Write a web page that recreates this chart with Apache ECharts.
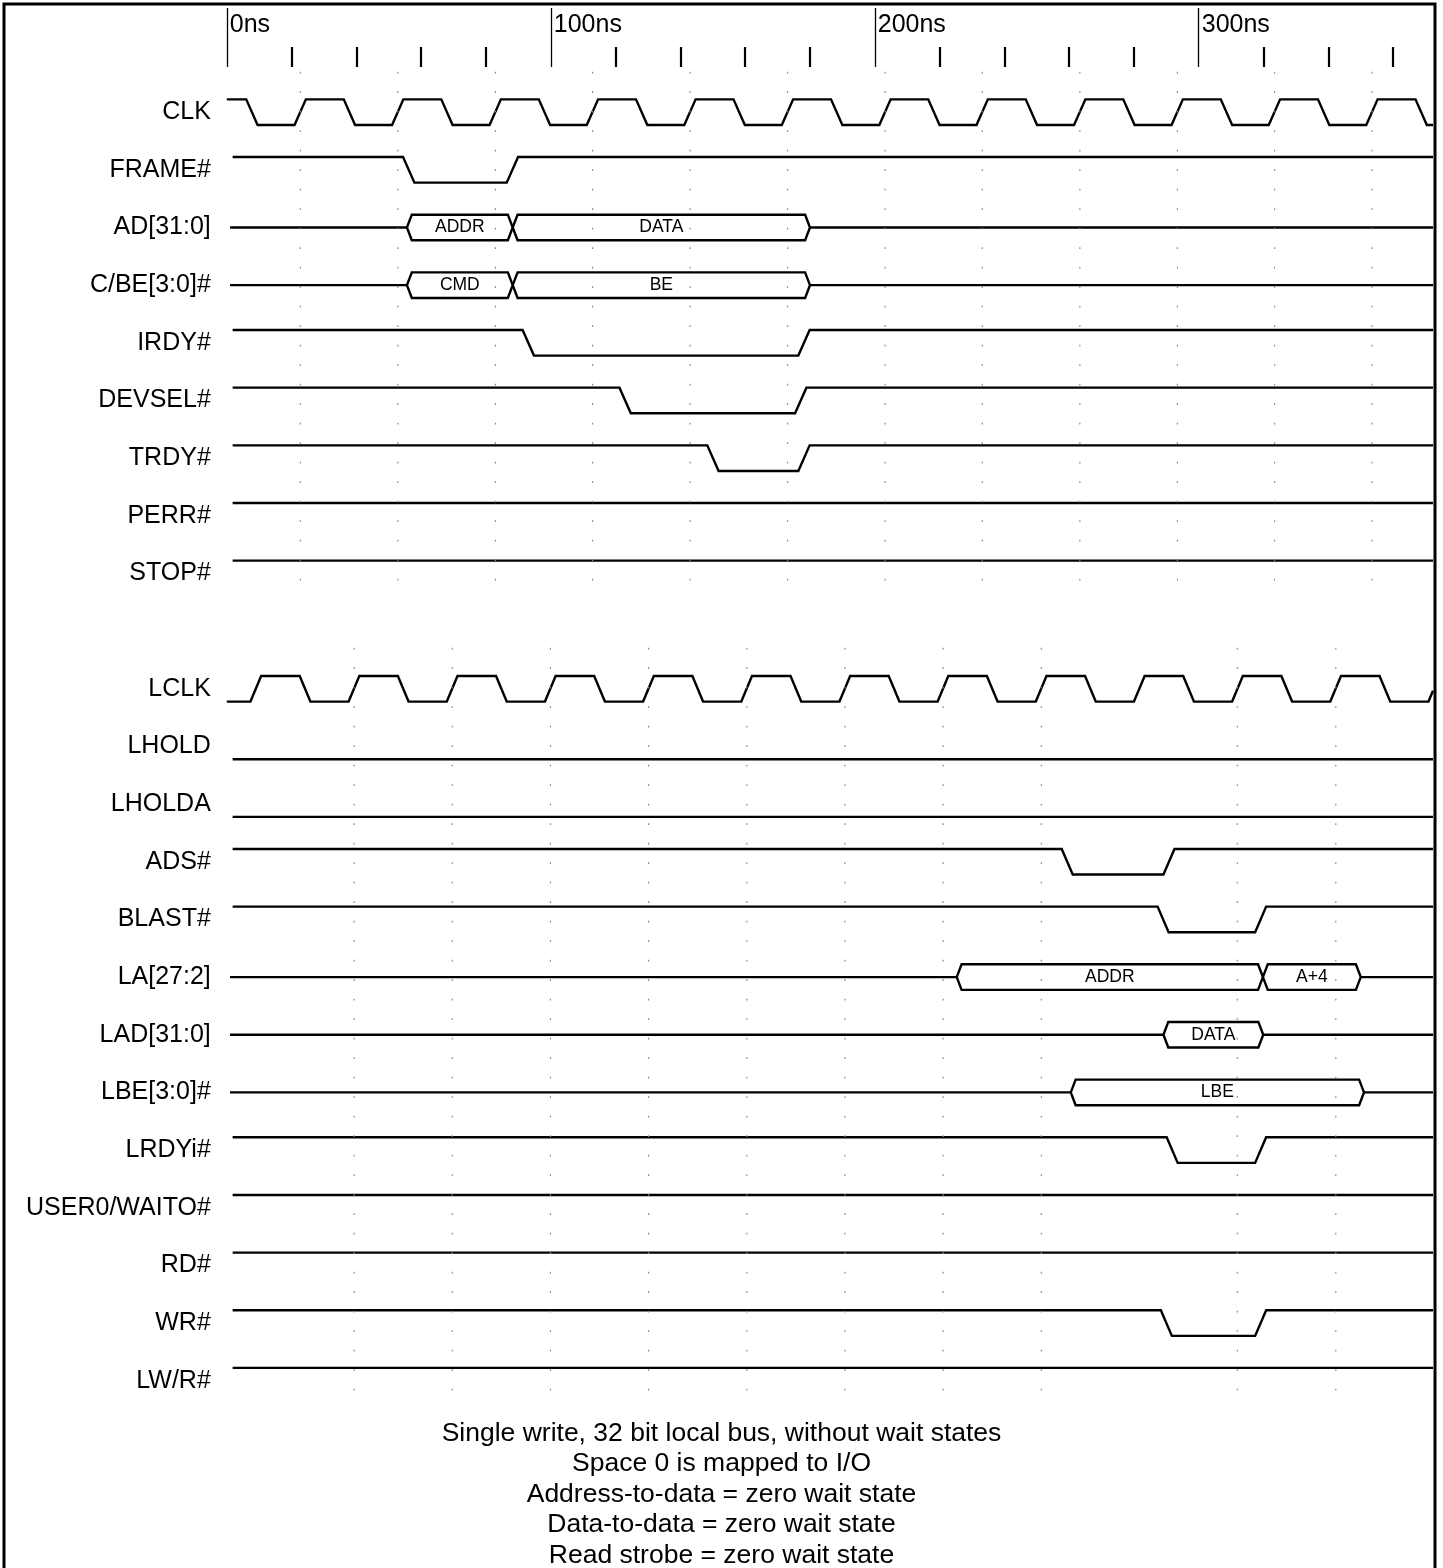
<!DOCTYPE html>
<html><head><meta charset="utf-8">
<script src="https://cdn.jsdelivr.net/npm/echarts@6/dist/echarts.min.js"></script>
<style>html,body{margin:0;padding:0;background:#fff}#c{width:1443px;height:1568px}</style>
</head><body><div id="c"></div>
<script>
// ---------- data (times in ns) ----------
const signalNames = ['CLK','FRAME#','AD[31:0]','C/BE[3:0]#','IRDY#','DEVSEL#','TRDY#','PERR#','STOP#','',
  'LCLK','LHOLD','LHOLDA','ADS#','BLAST#','LA[27:2]','LAD[31:0]','LBE[3:0]#','LRDYi#','USER0/WAITO#','RD#','WR#','LW/R#'];
const timeTickLabels = ['0ns','100ns','200ns','300ns'];
const timeEnd = 372.3;

// clock edges (start of each transition), CLK starts high, LCLK starts low
const clkEdges  = [6.0,20.9,36.1,51.0,66.2,81.1,96.3,111.1,126.3,141.2,156.4,171.3,186.5,201.4,216.5,231.4,246.6,261.5,276.7,291.6,306.8,321.6,336.8,351.7,366.9];
const lclkEdges = [7.3,22.5,37.6,52.8,67.9,83.1,98.2,113.4,128.5,143.7,158.8,174.0,189.1,204.3,219.4,234.6,249.7,264.9,280.0,295.2,310.3,325.5,340.6,355.8,370.9];

// single-bit signals: edge times (start high unless noted)
const frameEdges  = [54.4, 86.4];
const irdyEdges   = [91.3, 176.4];
const devselEdges = [121.2, 175.4];
const trdyEdges   = [148.3, 176.4];
const perrEdges   = [];
const stopEdges   = [];
const lholdEdges  = [];   // low
const lholdaEdges = [];   // low
const adsEdges    = [257.7, 289.1];
const blastEdges  = [287.3, 317.4];
const lrdyEdges   = [290.1, 317.4];
const user0Edges  = [];
const rdEdges     = [];
const wrEdges     = [288.3, 317.4];
const lwrEdges    = [];

// bus signals: [start, end, label]
const adBus  = [[55.6, 88.25, 'ADDR'], [88.25, 180.0, 'DATA']];
const cbeBus = [[55.6, 88.25, 'CMD'],  [88.25, 180.0, 'BE']];
const laBus  = [[225.3, 319.8, 'ADDR'], [319.8, 350.0, 'A+4']];
const ladBus = [[289.1, 319.9, 'DATA']];
const lbeBus = [[260.5, 351.0, 'LBE']];

// dotted reference lines (CLK / LCLK rising edges)
const pciGridTimes   = [22.7,52.8,82.9,112.9,143.0,173.1,203.2,233.2,263.3,293.4,323.4,353.5];
const localGridTimes = [39.3,69.6,99.9,130.2,160.5,190.8,221.1,251.4,311.9,342.3];

const caption = ['Single write, 32 bit local bus, without wait states','Space 0 is mapped to I/O',
  'Address-to-data = zero wait state','Data-to-data = zero wait state','Read strobe = zero wait state'];

// ---------- building ----------
const AMP = 0.222;
const FONT = 'Liberation Sans, Arial, Helvetica, sans-serif';
const LINE = {color:'#000', width:2.4, cap:'butt', join:'miter'};

function digital(row, startHigh, t0, edges, w) {
  const lv = h => h ? row - AMP : row + AMP;
  let cur = startHigh;
  const pts = [[t0, lv(cur)]];
  for (const e of edges) {
    if (e >= timeEnd) break;
    pts.push([e, lv(cur)]);
    const nxt = !cur;
    if (e + w <= timeEnd) { pts.push([e + w, lv(nxt)]); }
    else { const f = (timeEnd - e) / w; pts.push([timeEnd, lv(cur) + (lv(nxt) - lv(cur)) * f]); return pts; }
    cur = nxt;
  }
  pts.push([timeEnd, lv(cur)]);
  return pts;
}
const H = 1.5;
function hexagon(row, s, e) {
  return [[s,row],[s+H,row-AMP],[e-H,row-AMP],[e,row],[e-H,row+AMP],[s+H,row+AMP],[s,row]];
}

const series = [];
function addLine(data, style) {
  series.push({type:'line', xAxisIndex:0, yAxisIndex:0, data, symbol:'none', silent:true,
    animation:false, lineStyle: style || LINE, z: 3});
}
const digitalRows = [
  [0, true, 0, clkEdges, 3.5], [1, true, 1.8, frameEdges, 3.5], [4, true, 1.8, irdyEdges, 3.5],
  [5, true, 1.8, devselEdges, 3.5], [6, true, 1.8, trdyEdges, 3.5], [7, true, 1.8, perrEdges, 3.5],
  [8, true, 1.8, stopEdges, 3.5], [10, false, 0, lclkEdges, 3.3], [11, false, 1.8, lholdEdges, 3.5],
  [12, false, 1.8, lholdaEdges, 3.5], [13, true, 1.8, adsEdges, 3.4], [14, true, 1.8, blastEdges, 3.4],
  [18, true, 1.8, lrdyEdges, 3.4], [19, true, 1.8, user0Edges, 3.4], [20, true, 1.8, rdEdges, 3.4],
  [21, true, 1.8, wrEdges, 3.4], [22, true, 1.8, lwrEdges, 3.4]
];
digitalRows.forEach(r => addLine(digital(r[0], r[1], r[2], r[3], r[4])));

const busRows = [[2, adBus], [3, cbeBus], [15, laBus], [16, ladBus], [17, lbeBus]];
const boxLabels = [];
busRows.forEach(([row, segs]) => {
  addLine([[1.0, row], [segs[0][0], row]]);
  segs.forEach(sg => { addLine(hexagon(row, sg[0], sg[1])); boxLabels.push({value:[(sg[0]+sg[1])/2, row], name: sg[2]}); });
  addLine([[segs[segs.length-1][1], row], [timeEnd, row]]);
});
series.push({type:'scatter', xAxisIndex:0, yAxisIndex:0, data: boxLabels, symbolSize:1,
  itemStyle:{color:'rgba(0,0,0,0)'}, silent:true, animation:false, z:5,
  label:{show:true, position:'inside', formatter:'{b}', fontSize:17.5, color:'#000', opacity:1,
    textBorderWidth:0, fontFamily:FONT}});

const DOT = {color:'#8a8a8a', width:1.2, type:[1.6, 17.9]};
pciGridTimes.forEach(t => addLine([[t, -0.70], [t, 8.3]], DOT));
localGridTimes.forEach(t => addLine([[t, 9.29], [t, 22.3]], DOT));

const option = {
  backgroundColor:'#fff',
  animation:false,
  textStyle:{fontFamily:FONT},
  title:{text: caption.join('\n'), left:'center', top:1413,
    textStyle:{fontSize:26.5, fontWeight:'normal', color:'#000', lineHeight:30.5, fontFamily:FONT}},
  grid:[
    {left:226.8, right:10, top:54.5, bottom:71.96, outerBoundsMode:'none', containLabel:false},
    {left:226.8, width:1295.9, top:8, height:59, outerBoundsMode:'none', containLabel:false}
  ],
  xAxis:[
    {gridIndex:0, type:'value', min:0, max:timeEnd, show:false},
    {gridIndex:1, type:'value', min:0, max:400, interval:100, position:'bottom',
      axisLine:{show:false}, splitLine:{show:false}, axisLabel:{show:false},
      axisTick:{show:true, inside:true, length:59, lineStyle:{color:'#000', width:1.3}},
      minorTick:{show:true, splitNumber:5, length:20, lineStyle:{color:'#000', width:2.2}}},
    {gridIndex:1, type:'value', min:0, max:400, interval:100, position:'top',
      axisLine:{show:false}, splitLine:{show:false}, axisTick:{show:false},
      axisLabel:{show:true, inside:true, margin:5, align:'left', verticalAlign:'top', padding:[0,0,0,3],
        fontSize:25, color:'#000', fontFamily:FONT,
        formatter: v => timeTickLabels[Math.round(v/100)] && v < timeEnd ? timeTickLabels[Math.round(v/100)] : ''}}
  ],
  yAxis:[
    {gridIndex:0, type:'value', inverse:true, min:-1, max:24, interval:1,
      axisLine:{show:false}, axisTick:{show:false}, splitLine:{show:false},
      axisLabel:{margin:16, fontSize:25, color:'#000', fontFamily:FONT,
        formatter: v => signalNames[v] || ''}},
    {gridIndex:1, type:'value', min:0, max:1, show:false}
  ],
  graphic:[{type:'rect', shape:{x:4, y:4, width:1431, height:1620}, silent:true,
    style:{fill:'none', stroke:'#000', lineWidth:3}, z:100}],
  series
};
echarts.init(document.getElementById('c'), null, {renderer:'canvas'}).setOption(option);
</script>
</body></html>
